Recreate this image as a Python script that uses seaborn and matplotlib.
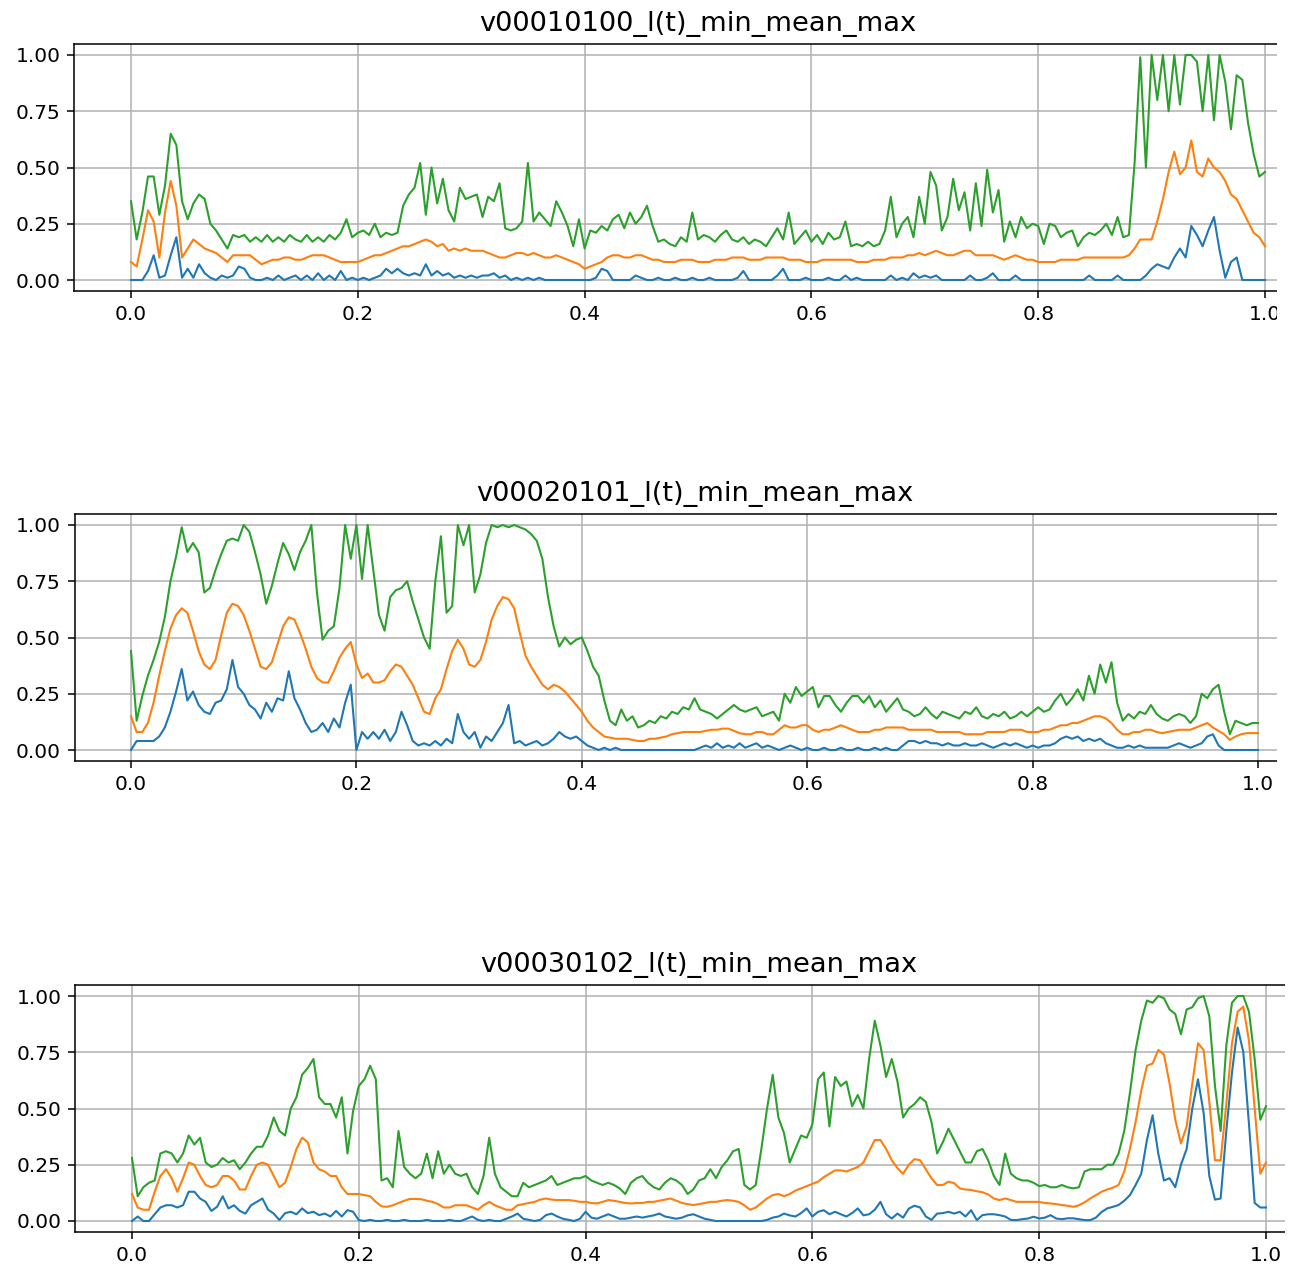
import numpy as np
import pandas as pd
import matplotlib
matplotlib.use("Agg")
import matplotlib.pyplot as plt
from matplotlib.patches import Rectangle
from matplotlib.ticker import FormatStrFormatter
import seaborn as sns

# ---------------------------------------------------------------------------
# l(t) statistics per video, sampled on t = 0 .. 1 (201 samples)
# ---------------------------------------------------------------------------
titles = [
    "v00010100_l(t)_min_mean_max",
    "v00020101_l(t)_min_mean_max",
    "v00030102_l(t)_min_mean_max",
]
stat_names = ["min", "mean", "max"]
x_ticks = [0.0, 0.2, 0.4, 0.6, 0.8, 1.0]
y_ticks = [0.0, 0.25, 0.5, 0.75, 1.0]

v1_max = [
    0.35, 0.18, 0.30, 0.46, 0.46, 0.29, 0.42, 0.65, 0.60, 0.35,
    0.27, 0.34, 0.38, 0.36, 0.25, 0.22, 0.18, 0.14, 0.20, 0.19,
    0.20, 0.17, 0.19, 0.17, 0.20, 0.17, 0.19, 0.17, 0.20, 0.18,
    0.17, 0.20, 0.17, 0.19, 0.17, 0.20, 0.18, 0.21, 0.27, 0.19,
    0.21, 0.22, 0.20, 0.25, 0.19, 0.21, 0.20, 0.21, 0.33, 0.38,
    0.41, 0.52, 0.29, 0.50, 0.34, 0.45, 0.31, 0.26, 0.41, 0.36,
    0.37, 0.38, 0.28, 0.37, 0.35, 0.43, 0.23, 0.22, 0.23, 0.26,
    0.52, 0.26, 0.30, 0.27, 0.24, 0.35, 0.30, 0.24, 0.15, 0.27,
    0.14, 0.22, 0.21, 0.24, 0.22, 0.27, 0.29, 0.23, 0.30, 0.25,
    0.28, 0.33, 0.24, 0.17, 0.18, 0.16, 0.15, 0.19, 0.17, 0.30,
    0.18, 0.20, 0.19, 0.17, 0.20, 0.22, 0.18, 0.17, 0.19, 0.16,
    0.18, 0.17, 0.15, 0.19, 0.23, 0.18, 0.30, 0.16, 0.19, 0.22,
    0.17, 0.20, 0.16, 0.21, 0.18, 0.19, 0.26, 0.15, 0.16, 0.15,
    0.17, 0.15, 0.16, 0.22, 0.37, 0.19, 0.25, 0.28, 0.19, 0.37,
    0.25, 0.48, 0.42, 0.22, 0.28, 0.45, 0.31, 0.39, 0.22, 0.43,
    0.24, 0.49, 0.30, 0.40, 0.17, 0.26, 0.19, 0.28, 0.23, 0.25,
    0.24, 0.16, 0.25, 0.24, 0.19, 0.21, 0.22, 0.15, 0.19, 0.21,
    0.20, 0.22, 0.25, 0.20, 0.28, 0.19, 0.20, 0.52, 0.99, 0.50,
    1.00, 0.80, 1.00, 0.75, 1.00, 0.78, 1.00, 1.00, 0.97, 0.75,
    1.00, 0.71, 1.00, 0.88, 0.67, 0.91, 0.89, 0.70, 0.56, 0.46,
    0.48,
]
v1_mean = [
    0.08, 0.06, 0.18, 0.31, 0.26, 0.10, 0.30, 0.44, 0.33, 0.10,
    0.14, 0.18, 0.16, 0.14, 0.13, 0.12, 0.10, 0.08, 0.11, 0.11,
    0.11, 0.11, 0.09, 0.07, 0.08, 0.09, 0.09, 0.10, 0.10, 0.09,
    0.09, 0.10, 0.11, 0.11, 0.11, 0.10, 0.09, 0.08, 0.08, 0.08,
    0.08, 0.09, 0.10, 0.11, 0.11, 0.12, 0.13, 0.14, 0.15, 0.15,
    0.16, 0.17, 0.18, 0.17, 0.15, 0.16, 0.13, 0.14, 0.13, 0.14,
    0.13, 0.13, 0.13, 0.12, 0.11, 0.10, 0.10, 0.11, 0.12, 0.12,
    0.11, 0.12, 0.11, 0.10, 0.10, 0.11, 0.10, 0.09, 0.08, 0.07,
    0.05, 0.06, 0.07, 0.08, 0.10, 0.11, 0.11, 0.10, 0.10, 0.11,
    0.11, 0.10, 0.09, 0.09, 0.08, 0.08, 0.08, 0.09, 0.09, 0.09,
    0.08, 0.08, 0.08, 0.09, 0.09, 0.09, 0.10, 0.10, 0.10, 0.09,
    0.09, 0.09, 0.10, 0.10, 0.10, 0.10, 0.09, 0.09, 0.09, 0.08,
    0.08, 0.08, 0.09, 0.09, 0.09, 0.09, 0.09, 0.09, 0.08, 0.08,
    0.08, 0.09, 0.09, 0.09, 0.10, 0.10, 0.10, 0.11, 0.11, 0.12,
    0.11, 0.12, 0.13, 0.12, 0.11, 0.11, 0.12, 0.13, 0.13, 0.11,
    0.11, 0.11, 0.11, 0.10, 0.09, 0.10, 0.11, 0.10, 0.09, 0.09,
    0.08, 0.08, 0.08, 0.08, 0.09, 0.09, 0.09, 0.09, 0.10, 0.10,
    0.10, 0.10, 0.10, 0.10, 0.10, 0.10, 0.11, 0.14, 0.18, 0.18,
    0.18, 0.26, 0.36, 0.48, 0.57, 0.47, 0.50, 0.62, 0.48, 0.46,
    0.54, 0.50, 0.48, 0.44, 0.38, 0.36, 0.31, 0.26, 0.21, 0.19,
    0.15,
]
v1_min = [
    0.00, 0.00, 0.00, 0.04, 0.11, 0.01, 0.02, 0.11, 0.19, 0.01,
    0.05, 0.01, 0.07, 0.03, 0.01, 0.00, 0.02, 0.01, 0.02, 0.06,
    0.05, 0.01, 0.00, 0.00, 0.01, 0.00, 0.02, 0.00, 0.01, 0.02,
    0.00, 0.02, 0.00, 0.03, 0.00, 0.02, 0.00, 0.04, 0.00, 0.01,
    0.00, 0.01, 0.00, 0.01, 0.02, 0.05, 0.03, 0.05, 0.03, 0.02,
    0.03, 0.02, 0.07, 0.02, 0.04, 0.02, 0.03, 0.01, 0.02, 0.01,
    0.02, 0.01, 0.02, 0.02, 0.03, 0.01, 0.02, 0.00, 0.01, 0.00,
    0.01, 0.00, 0.01, 0.00, 0.00, 0.00, 0.00, 0.00, 0.00, 0.00,
    0.00, 0.00, 0.01, 0.05, 0.04, 0.00, 0.00, 0.00, 0.00, 0.02,
    0.01, 0.00, 0.00, 0.01, 0.00, 0.00, 0.01, 0.00, 0.00, 0.01,
    0.00, 0.00, 0.01, 0.00, 0.00, 0.00, 0.00, 0.01, 0.04, 0.00,
    0.00, 0.00, 0.00, 0.00, 0.02, 0.05, 0.00, 0.00, 0.00, 0.01,
    0.00, 0.00, 0.00, 0.01, 0.00, 0.00, 0.02, 0.00, 0.01, 0.00,
    0.00, 0.00, 0.00, 0.00, 0.02, 0.00, 0.01, 0.00, 0.03, 0.01,
    0.02, 0.01, 0.02, 0.00, 0.00, 0.00, 0.00, 0.00, 0.02, 0.00,
    0.00, 0.01, 0.03, 0.00, 0.00, 0.00, 0.02, 0.00, 0.00, 0.00,
    0.00, 0.00, 0.00, 0.00, 0.00, 0.00, 0.00, 0.00, 0.00, 0.02,
    0.00, 0.00, 0.00, 0.00, 0.02, 0.00, 0.00, 0.00, 0.00, 0.02,
    0.05, 0.07, 0.06, 0.05, 0.10, 0.14, 0.10, 0.24, 0.20, 0.15,
    0.22, 0.28, 0.13, 0.01, 0.08, 0.10, 0.00, 0.00, 0.00, 0.00,
    0.00,
]

v2_max = [
    0.44, 0.13, 0.24, 0.33, 0.40, 0.48, 0.59, 0.75, 0.86, 0.99,
    0.88, 0.92, 0.88, 0.70, 0.72, 0.80, 0.87, 0.93, 0.94, 0.93,
    1.00, 0.97, 0.88, 0.78, 0.65, 0.73, 0.83, 0.92, 0.87, 0.80,
    0.88, 0.93, 1.00, 0.70, 0.49, 0.53, 0.55, 0.72, 1.00, 0.85,
    1.00, 0.76, 1.00, 0.80, 0.60, 0.53, 0.68, 0.71, 0.72, 0.75,
    0.66, 0.58, 0.50, 0.45, 0.75, 0.95, 0.61, 0.64, 1.00, 0.91,
    1.00, 0.70, 0.78, 0.92, 1.00, 0.99, 1.00, 0.99, 1.00, 0.99,
    0.98, 0.96, 0.93, 0.85, 0.68, 0.55, 0.46, 0.50, 0.47, 0.49,
    0.50, 0.44, 0.37, 0.33, 0.22, 0.13, 0.11, 0.18, 0.13, 0.15,
    0.10, 0.11, 0.13, 0.12, 0.15, 0.14, 0.17, 0.16, 0.19, 0.18,
    0.23, 0.18, 0.17, 0.16, 0.14, 0.16, 0.18, 0.20, 0.18, 0.17,
    0.18, 0.19, 0.15, 0.16, 0.17, 0.13, 0.25, 0.21, 0.28, 0.24,
    0.26, 0.28, 0.19, 0.24, 0.24, 0.20, 0.17, 0.21, 0.24, 0.24,
    0.21, 0.24, 0.19, 0.22, 0.17, 0.20, 0.23, 0.18, 0.17, 0.15,
    0.16, 0.19, 0.16, 0.14, 0.17, 0.16, 0.15, 0.14, 0.17, 0.16,
    0.19, 0.15, 0.14, 0.16, 0.15, 0.17, 0.14, 0.15, 0.17, 0.15,
    0.17, 0.19, 0.17, 0.18, 0.22, 0.25, 0.20, 0.23, 0.27, 0.22,
    0.33, 0.25, 0.38, 0.30, 0.39, 0.21, 0.13, 0.16, 0.14, 0.17,
    0.16, 0.20, 0.16, 0.14, 0.13, 0.15, 0.16, 0.15, 0.12, 0.15,
    0.25, 0.23, 0.27, 0.29, 0.17, 0.07, 0.13, 0.12, 0.11, 0.12,
    0.12,
]
v2_mean = [
    0.15, 0.08, 0.08, 0.12, 0.21, 0.33, 0.44, 0.54, 0.60, 0.63,
    0.61, 0.53, 0.44, 0.38, 0.36, 0.40, 0.51, 0.61, 0.65, 0.64,
    0.60, 0.53, 0.45, 0.37, 0.36, 0.39, 0.47, 0.55, 0.59, 0.58,
    0.52, 0.45, 0.37, 0.32, 0.30, 0.30, 0.35, 0.41, 0.45, 0.48,
    0.38, 0.32, 0.34, 0.30, 0.30, 0.31, 0.35, 0.38, 0.37, 0.33,
    0.29, 0.23, 0.17, 0.16, 0.23, 0.27, 0.36, 0.44, 0.49, 0.45,
    0.38, 0.37, 0.40, 0.48, 0.58, 0.64, 0.68, 0.67, 0.63, 0.52,
    0.42, 0.37, 0.33, 0.29, 0.27, 0.29, 0.28, 0.26, 0.23, 0.20,
    0.17, 0.13, 0.10, 0.08, 0.06, 0.055, 0.05, 0.05, 0.05, 0.045,
    0.04, 0.04, 0.05, 0.05, 0.055, 0.06, 0.07, 0.075, 0.08, 0.08,
    0.08, 0.08, 0.085, 0.09, 0.09, 0.095, 0.095, 0.085, 0.075, 0.07,
    0.07, 0.08, 0.08, 0.07, 0.07, 0.09, 0.11, 0.10, 0.10, 0.11,
    0.11, 0.09, 0.08, 0.09, 0.09, 0.10, 0.11, 0.10, 0.09, 0.08,
    0.08, 0.08, 0.09, 0.09, 0.10, 0.10, 0.10, 0.10, 0.09, 0.09,
    0.09, 0.09, 0.09, 0.08, 0.08, 0.08, 0.08, 0.08, 0.07, 0.07,
    0.07, 0.07, 0.08, 0.08, 0.08, 0.08, 0.09, 0.09, 0.09, 0.08,
    0.08, 0.08, 0.09, 0.09, 0.10, 0.11, 0.11, 0.12, 0.12, 0.13,
    0.14, 0.15, 0.15, 0.14, 0.12, 0.09, 0.07, 0.07, 0.08, 0.08,
    0.09, 0.09, 0.08, 0.075, 0.08, 0.085, 0.09, 0.09, 0.09, 0.10,
    0.11, 0.12, 0.10, 0.085, 0.07, 0.045, 0.06, 0.07, 0.075, 0.075,
    0.075,
]
v2_min = [
    0.00, 0.04, 0.04, 0.04, 0.04, 0.06, 0.10, 0.17, 0.26, 0.36,
    0.22, 0.26, 0.20, 0.17, 0.16, 0.21, 0.22, 0.27, 0.40, 0.28,
    0.25, 0.20, 0.18, 0.14, 0.21, 0.17, 0.23, 0.22, 0.35, 0.23,
    0.18, 0.12, 0.08, 0.09, 0.12, 0.08, 0.14, 0.10, 0.21, 0.29,
    0.00, 0.08, 0.05, 0.08, 0.05, 0.09, 0.04, 0.08, 0.17, 0.11,
    0.04, 0.02, 0.03, 0.02, 0.04, 0.02, 0.05, 0.03, 0.16, 0.08,
    0.05, 0.08, 0.01, 0.06, 0.04, 0.08, 0.12, 0.20, 0.03, 0.04,
    0.02, 0.03, 0.04, 0.02, 0.03, 0.05, 0.08, 0.06, 0.05, 0.06,
    0.04, 0.02, 0.01, 0.00, 0.01, 0.00, 0.01, 0.00, 0.00, 0.00,
    0.00, 0.00, 0.00, 0.00, 0.00, 0.00, 0.00, 0.00, 0.00, 0.00,
    0.00, 0.01, 0.02, 0.01, 0.03, 0.01, 0.02, 0.01, 0.03, 0.01,
    0.02, 0.03, 0.01, 0.02, 0.01, 0.00, 0.01, 0.02, 0.01, 0.00,
    0.01, 0.00, 0.00, 0.01, 0.00, 0.00, 0.01, 0.00, 0.00, 0.01,
    0.00, 0.00, 0.01, 0.00, 0.01, 0.00, 0.00, 0.02, 0.04, 0.04,
    0.03, 0.04, 0.03, 0.03, 0.02, 0.03, 0.02, 0.02, 0.03, 0.02,
    0.02, 0.03, 0.02, 0.01, 0.02, 0.03, 0.02, 0.03, 0.02, 0.01,
    0.02, 0.01, 0.02, 0.02, 0.03, 0.05, 0.06, 0.05, 0.06, 0.04,
    0.05, 0.04, 0.05, 0.03, 0.02, 0.01, 0.01, 0.02, 0.01, 0.02,
    0.01, 0.01, 0.01, 0.01, 0.01, 0.02, 0.03, 0.02, 0.01, 0.02,
    0.03, 0.06, 0.07, 0.02, 0.00, 0.00, 0.00, 0.00, 0.00, 0.00,
    0.00,
]

v3_max = [
    0.28, 0.11, 0.15, 0.17, 0.18, 0.30, 0.31, 0.30, 0.26, 0.30,
    0.38, 0.34, 0.37, 0.26, 0.24, 0.25, 0.28, 0.26, 0.27, 0.23,
    0.26, 0.30, 0.33, 0.33, 0.38, 0.46, 0.40, 0.38, 0.50, 0.55,
    0.65, 0.68, 0.72, 0.55, 0.52, 0.52, 0.46, 0.55, 0.30, 0.49,
    0.60, 0.63, 0.69, 0.63, 0.18, 0.19, 0.15, 0.40, 0.24, 0.21,
    0.19, 0.21, 0.30, 0.19, 0.31, 0.21, 0.25, 0.21, 0.20, 0.21,
    0.15, 0.12, 0.20, 0.37, 0.21, 0.15, 0.13, 0.11, 0.11, 0.17,
    0.15, 0.16, 0.17, 0.18, 0.20, 0.16, 0.17, 0.18, 0.19, 0.19,
    0.20, 0.18, 0.17, 0.16, 0.17, 0.16, 0.145, 0.12, 0.17, 0.19,
    0.20, 0.17, 0.15, 0.14, 0.17, 0.19, 0.18, 0.16, 0.12, 0.14,
    0.18, 0.19, 0.23, 0.19, 0.24, 0.27, 0.31, 0.32, 0.16, 0.14,
    0.16, 0.32, 0.50, 0.65, 0.46, 0.39, 0.26, 0.32, 0.38, 0.37,
    0.43, 0.63, 0.66, 0.42, 0.64, 0.60, 0.62, 0.51, 0.56, 0.50,
    0.72, 0.89, 0.78, 0.64, 0.72, 0.62, 0.46, 0.50, 0.52, 0.55,
    0.53, 0.44, 0.30, 0.35, 0.41, 0.36, 0.31, 0.26, 0.26, 0.31,
    0.32, 0.27, 0.20, 0.16, 0.30, 0.21, 0.19, 0.18, 0.18, 0.17,
    0.155, 0.16, 0.15, 0.15, 0.16, 0.15, 0.145, 0.15, 0.22, 0.23,
    0.23, 0.23, 0.25, 0.25, 0.30, 0.40, 0.57, 0.76, 0.89, 0.98,
    0.97, 1.00, 0.99, 0.94, 0.92, 0.83, 0.94, 0.95, 0.99, 1.00,
    0.91, 0.60, 0.40, 0.78, 0.97, 1.00, 1.00, 0.93, 0.72, 0.45,
    0.51,
]
v3_mean = [
    0.12, 0.06, 0.05, 0.05, 0.13, 0.20, 0.23, 0.19, 0.13, 0.19,
    0.26, 0.25, 0.20, 0.16, 0.15, 0.16, 0.20, 0.20, 0.18, 0.14,
    0.14, 0.20, 0.25, 0.26, 0.25, 0.20, 0.15, 0.17, 0.24, 0.32,
    0.37, 0.35, 0.26, 0.23, 0.22, 0.20, 0.20, 0.15, 0.12, 0.12,
    0.12, 0.115, 0.11, 0.085, 0.065, 0.063, 0.07, 0.08, 0.09, 0.098,
    0.098, 0.097, 0.09, 0.085, 0.075, 0.06, 0.06, 0.07, 0.07, 0.07,
    0.06, 0.05, 0.07, 0.085, 0.07, 0.06, 0.05, 0.05, 0.07, 0.075,
    0.08, 0.085, 0.095, 0.10, 0.095, 0.093, 0.093, 0.093, 0.09, 0.085,
    0.085, 0.08, 0.078, 0.085, 0.093, 0.09, 0.085, 0.08, 0.078, 0.08,
    0.08, 0.085, 0.085, 0.09, 0.095, 0.10, 0.09, 0.08, 0.075, 0.071,
    0.075, 0.08, 0.085, 0.085, 0.09, 0.093, 0.09, 0.085, 0.07, 0.05,
    0.06, 0.08, 0.10, 0.115, 0.12, 0.11, 0.12, 0.135, 0.145, 0.155,
    0.165, 0.175, 0.195, 0.21, 0.225, 0.225, 0.22, 0.23, 0.24, 0.26,
    0.31, 0.36, 0.36, 0.32, 0.27, 0.235, 0.21, 0.25, 0.275, 0.27,
    0.23, 0.19, 0.16, 0.16, 0.175, 0.168, 0.145, 0.14, 0.138, 0.132,
    0.128, 0.118, 0.10, 0.093, 0.10, 0.093, 0.085, 0.085, 0.085, 0.085,
    0.085, 0.08, 0.078, 0.075, 0.071, 0.068, 0.063, 0.07, 0.083, 0.10,
    0.115, 0.13, 0.14, 0.148, 0.16, 0.22, 0.32, 0.44, 0.58, 0.69,
    0.70, 0.76, 0.74, 0.61, 0.45, 0.345, 0.42, 0.61, 0.79, 0.76,
    0.53, 0.27, 0.27, 0.52, 0.79, 0.93, 0.953, 0.80, 0.50, 0.21,
    0.26,
]
v3_min = [
    0.00, 0.02, 0.00, 0.00, 0.03, 0.06, 0.07, 0.07, 0.06, 0.07,
    0.13, 0.13, 0.10, 0.085, 0.045, 0.063, 0.11, 0.056, 0.07, 0.045,
    0.033, 0.07, 0.085, 0.10, 0.05, 0.033, 0.004, 0.035, 0.041, 0.03,
    0.056, 0.035, 0.041, 0.026, 0.033, 0.02, 0.045, 0.02, 0.048, 0.041,
    0.004, 0.00, 0.005, 0.00, 0.00, 0.005, 0.00, 0.00, 0.005, 0.00,
    0.00, 0.00, 0.005, 0.00, 0.00, 0.00, 0.005, 0.00, 0.00, 0.01,
    0.02, 0.005, 0.00, 0.005, 0.00, 0.00, 0.01, 0.02, 0.033, 0.01,
    0.005, 0.00, 0.005, 0.026, 0.033, 0.02, 0.01, 0.005, 0.00, 0.01,
    0.041, 0.015, 0.01, 0.02, 0.03, 0.02, 0.01, 0.01, 0.015, 0.02,
    0.015, 0.02, 0.025, 0.033, 0.02, 0.015, 0.01, 0.015, 0.025, 0.03,
    0.02, 0.01, 0.005, 0.00, 0.00, 0.00, 0.00, 0.00, 0.00, 0.00,
    0.00, 0.00, 0.005, 0.015, 0.02, 0.033, 0.025, 0.02, 0.035, 0.056,
    0.02, 0.041, 0.048, 0.03, 0.041, 0.03, 0.02, 0.035, 0.056, 0.025,
    0.03, 0.05, 0.085, 0.03, 0.011, 0.033, 0.015, 0.055, 0.068, 0.06,
    0.02, 0.005, 0.033, 0.035, 0.041, 0.033, 0.041, 0.02, 0.048, 0.004,
    0.026, 0.03, 0.03, 0.026, 0.02, 0.005, 0.004, 0.008, 0.011, 0.019,
    0.011, 0.015, 0.026, 0.011, 0.008, 0.012, 0.012, 0.008, 0.004, 0.004,
    0.015, 0.04, 0.056, 0.063, 0.071, 0.09, 0.115, 0.16, 0.21, 0.36,
    0.47, 0.30, 0.18, 0.19, 0.15, 0.25, 0.32, 0.50, 0.63, 0.48,
    0.20, 0.095, 0.10, 0.40, 0.66, 0.86, 0.75, 0.43, 0.08, 0.06,
    0.06,
]

series = [
    (v1_min, v1_mean, v1_max),
    (v2_min, v2_mean, v2_max),
    (v3_min, v3_mean, v3_max),
]

# ---------------------------------------------------------------------------
# Figure layout (pixel geometry of each panel)
# ---------------------------------------------------------------------------
W, H = 1298, 1274
plt.rcParams.update({
    "font.family": ["DejaVu Sans"],
    "axes.linewidth": 1.1,
    "grid.color": "#b0b0b0",
    "grid.linewidth": 1.1,
})

fig = plt.figure(figsize=(W / 100, H / 100), dpi=100, facecolor="white")

# (x of t=0, px per unit t, y of value 0, px per unit value, visible right edge)
panels = [
    (131, 1134, 280, 225, 1277),
    (131, 1127, 750, 225, 1277),
    (132, 1134, 1221, 225, 1285),
]

palette = {"min": "#1f77b4", "mean": "#ff7f0e", "max": "#2ca02c"}

for title, (s_min, s_mean, s_max), (x0, sx, y0, sy, vis_right) in zip(titles, series, panels):
    left = x0 - 0.05 * sx
    right = x0 + 1.05 * sx
    top = y0 - 1.05 * sy
    bottom = y0 + 0.05 * sy
    ax = fig.add_axes([left / W, 1 - bottom / H, (right - left) / W, (bottom - top) / H])

    frames = []
    for name, vals in zip(stat_names, (s_min, s_mean, s_max)):
        t = np.linspace(0.0, 1.0, len(vals))
        frames.append(pd.DataFrame({"t": t, "value": vals, "stat": name}))
    df = pd.concat(frames, ignore_index=True)

    sns.lineplot(data=df, x="t", y="value", hue="stat", hue_order=stat_names,
                 palette=palette, estimator=None, sort=False, linewidth=1.5,
                 legend=False, ax=ax)

    ax.set_xlim(-0.05, 1.05)
    ax.set_ylim(-0.05, 1.05)
    ax.set_xticks(x_ticks)
    ax.set_yticks(y_ticks)
    ax.xaxis.set_major_formatter(FormatStrFormatter("%.1f"))
    ax.yaxis.set_major_formatter(FormatStrFormatter("%.2f"))
    ax.set_xlabel("")
    ax.set_ylabel("")
    ax.grid(True)
    ax.set_axisbelow(True)
    ax.tick_params(labelsize=14.5, length=5, width=1.1, pad=5)
    for sp in ax.spines.values():
        sp.set_color("black")
    ax.set_title(title, fontsize=19.6, pad=9)

    # the panel is cut off at its visible right edge
    band_top = top - 60
    band_bottom = bottom + 60
    fig.add_artist(Rectangle((vis_right / W, 1 - band_bottom / H),
                             (W - vis_right) / W, (band_bottom - band_top) / H,
                             transform=fig.transFigure, facecolor="white",
                             edgecolor="none", zorder=100))

fig.savefig("out.png", dpi=100, facecolor="white")
